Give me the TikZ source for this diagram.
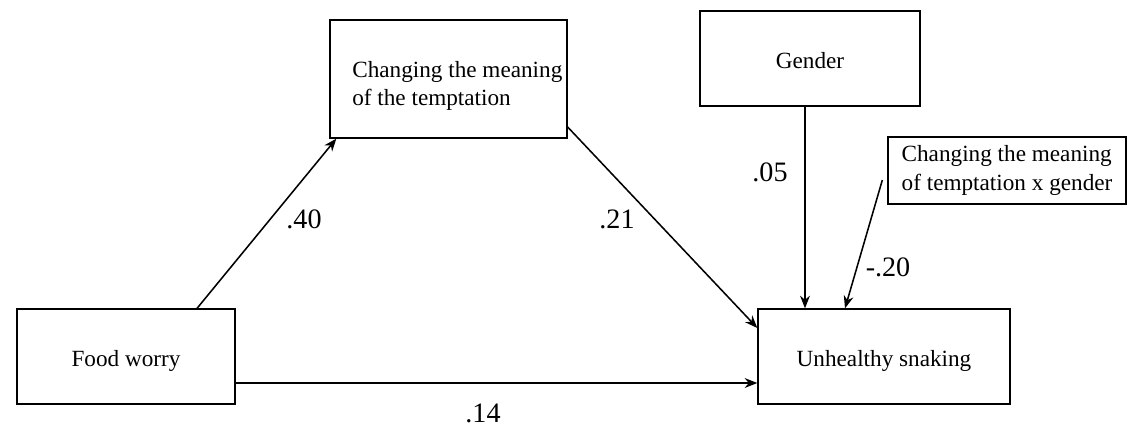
\documentclass[tikz,border=0pt]{standalone}
\usepackage{fontspec}
\setmainfont{Liberation Serif}
\usetikzlibrary{arrows.meta,positioning,calc}

\tikzset{
  varbox/.style={draw,line width=0.9pt,minimum height=2.375cm,inner sep=2pt,
    font=\fontsize{16.5}{20}\selectfont},
  onebox/.style={varbox,text height=18pt,text depth=3.5pt},
  boxtxt/.style={align=left,inner sep=0pt,font=\fontsize{16.5}{19.8}\selectfont},
  effarrow/.style={line width=1.1pt,-{Stealth[length=9pt,width=7pt]}},
  coef/.style={inner sep=0pt,font=\fontsize{20}{24}\selectfont}
}

\begin{document}
\begin{tikzpicture}[x=0.025cm,y=-0.025cm]
  \useasboundingbox (0,0) rectangle (1128,439);
  % variables
  \node[onebox,minimum width=5.45cm] (fw) at (126,356.5) {Food worry};
  \node[varbox,minimum width=5.925cm,minimum height=2.95cm] (med) at (448.5,79) {};
  \node[boxtxt,anchor=west] (medtxt) at (352,86) {Changing the meaning\\of the temptation};
  \node[onebox,minimum width=5.5cm] (gen) at (810,58.5) {Gender};
  \node[varbox,minimum width=5.95cm,minimum height=1.675cm,align=left] (inter) at (1007,170.5)
    {Changing the meaning\\of temptation x gender};
  \node[onebox,minimum width=6.3cm] (uh) at (884,356.5) {Unhealthy snaking};
  % paths
  \draw[effarrow] ([xshift=1.775cm]fw.north) -- ([xshift=0.175cm]med.south west);
  \draw[effarrow] ([yshift=-1.2cm]med.east) -- ([yshift=0.7125cm]uh.west);
  \draw[effarrow] ([yshift=-0.6625cm]fw.east) -- ([yshift=-0.6625cm]uh.west);
  \draw[effarrow] ([xshift=-0.125cm]gen.south) -- ([xshift=-1.975cm]uh.north);
  \draw[effarrow] ([xshift=-0.125cm,yshift=-0.2375cm]inter.west) -- ([xshift=-0.975cm]uh.north);
  % coefficients
  \node[coef] (c40) at (304,219) {.40};
  \node[coef] (c21) at (617,219) {.21};
  \node[coef] (c14) at (483,413) {.14};
  \node[coef] (c05) at (770,172) {.05};
  \node[coef] (c20) at (888,267) {-.20};
\end{tikzpicture}
\end{document}
